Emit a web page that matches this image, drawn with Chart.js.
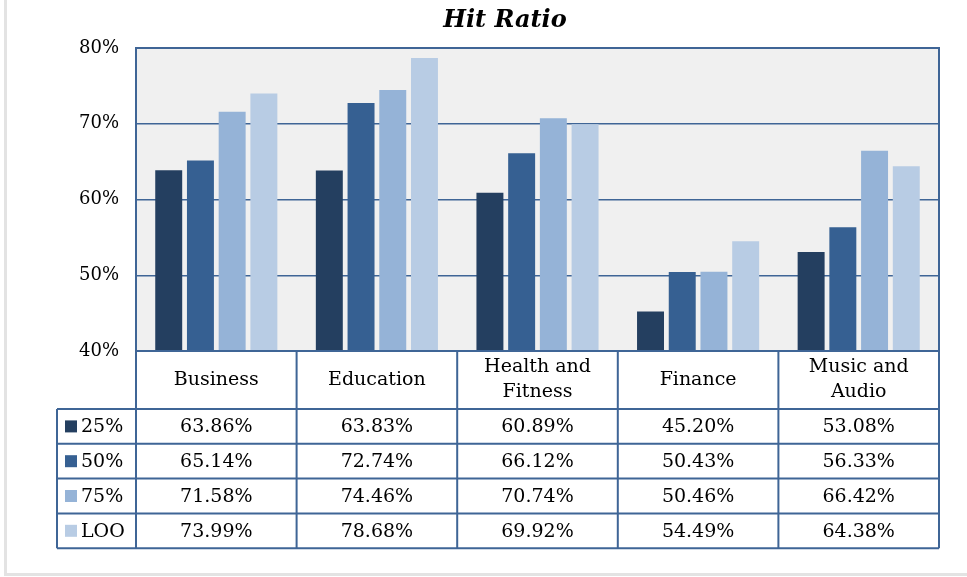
<!DOCTYPE html>
<html>
<head>
<meta charset="utf-8">
<script src="https://cdn.jsdelivr.net/npm/chart.js@4"></script>
<style>
  html, body { margin: 0; padding: 0; background: #fff; }
  #wrap { width: 967px; height: 577px; position: relative; }
</style>
</head>
<body>
<div id="wrap"><canvas id="hitRatio" width="967" height="577"></canvas></div>
<script>
// categories and series
const categories = [['Business'], ['Education'], ['Health and', 'Fitness'], ['Finance'], ['Music and', 'Audio']];
const seriesNames = ['25%', '50%', '75%', 'LOO'];
const s25 = [63.86, 63.83, 60.89, 45.20, 53.08];
const s50 = [65.14, 72.74, 66.12, 50.43, 56.33];
const s75 = [71.58, 74.46, 70.74, 50.46, 66.42];
const sLOO = [73.99, 78.68, 69.92, 54.49, 64.38];
const yTicks = [40, 50, 60, 70, 80];
const colors = ['#243f60', '#366092', '#95b3d7', '#b8cce4'];

const FONT = '"DejaVu Serif", serif';
const BLUE = '#3f6596';

const allSeries = [s25, s50, s75, sLOO];

// background + title + data table
const tablePlugin = {
  id: 'tablePlugin',
  beforeDraw(chart) {
    const { ctx, chartArea: a } = chart;
    ctx.save();
    ctx.fillStyle = '#fff';
    ctx.fillRect(0, 0, chart.width, chart.height);
    // outer frame shadow
    ctx.fillStyle = '#e3e3e3';
    ctx.fillRect(4, 0, 3, 576);
    ctx.fillRect(4, 573, 963, 3);
    ctx.fillStyle = '#f0f0f0';
    ctx.fillRect(a.left, a.top, a.right - a.left, a.bottom - a.top);
    ctx.restore();
  },
  afterDraw(chart) {
    const { ctx, chartArea: a } = chart;
    const n = categories.length;
    const cw = (a.right - a.left) / n;
    const headerBottom = 409;
    const rowH = 34.8;
    const tableBottom = headerBottom + rowH * 4;
    const legLeft = 57;
    ctx.save();

    // title
    ctx.fillStyle = '#000';
    ctx.font = 'italic bold 24px ' + FONT;
    ctx.textAlign = 'center';
    ctx.textBaseline = 'middle';
    ctx.fillText('Hit Ratio', 505, 21);

    // plot frame
    ctx.strokeStyle = BLUE;
    ctx.lineWidth = 2;
    ctx.strokeRect(a.left, a.top, a.right - a.left, a.bottom - a.top);

    // table lines
    ctx.beginPath();
    for (let i = 0; i <= n; i++) {
      const x = a.left + i * cw;
      ctx.moveTo(x, a.bottom);
      ctx.lineTo(x, tableBottom);
    }
    ctx.moveTo(legLeft, headerBottom);
    ctx.lineTo(legLeft, tableBottom);
    for (let r = 0; r <= 4; r++) {
      const y = headerBottom + r * rowH;
      ctx.moveTo(legLeft, y);
      ctx.lineTo(a.right, y);
    }
    ctx.stroke();

    // category labels
    ctx.fillStyle = '#000';
    ctx.font = '19px ' + FONT;
    ctx.textAlign = 'center';
    ctx.textBaseline = 'middle';
    const xs = chart.scales.x;
    categories.forEach((lines, i) => {
      const cx = xs.getPixelForValue(i);
      const mid = (a.bottom + headerBottom) / 2;
      const lh = 25;
      lines.forEach((t, k) => {
        ctx.fillText(t, cx, mid + (k - (lines.length - 1) / 2) * lh);
      });
    });

    // data rows
    allSeries.forEach((vals, r) => {
      const cy = headerBottom + r * rowH + rowH / 2;
      ctx.fillStyle = colors[r];
      ctx.fillRect(65, cy - 6, 12, 12);
      ctx.fillStyle = '#000';
      ctx.textAlign = 'left';
      ctx.fillText(seriesNames[r], 81, cy + 1);
      ctx.textAlign = 'center';
      vals.forEach((v, i) => {
        ctx.fillText(v.toFixed(2) + '%', xs.getPixelForValue(i), cy + 1);
      });
    });
    ctx.restore();
  }
};

new Chart(document.getElementById('hitRatio'), {
  type: 'bar',
  data: {
    labels: categories.map(c => c.join(' ')),
    datasets: seriesNames.map((name, i) => ({
      label: name,
      data: allSeries[i],
      backgroundColor: colors[i],
      borderWidth: 0,
      categoryPercentage: 0.79,
      barPercentage: 0.85
    }))
  },
  options: {
    responsive: false,
    animation: false,
    layout: { padding: { top: 48, right: 28, bottom: 226, left: 0 } },
    plugins: {
      legend: { display: false },
      title: { display: false },
      tooltip: { enabled: false }
    },
    scales: {
      x: {
        ticks: { display: false },
        grid: { display: false, drawTicks: false },
        border: { display: false }
      },
      y: {
        min: yTicks[0],
        max: yTicks[yTicks.length - 1],
        afterFit: s => { s.width = 136; },
        afterBuildTicks: s => { s.ticks = yTicks.map(v => ({ value: v })); },
        ticks: {
          padding: 17,
          color: '#000',
          font: { family: FONT, size: 18 },
          callback: v => v + '%'
        },
        grid: { color: BLUE, lineWidth: 1.5, drawTicks: false },
        border: { display: false }
      }
    }
  },
  plugins: [tablePlugin]
});
</script>
</body>
</html>
